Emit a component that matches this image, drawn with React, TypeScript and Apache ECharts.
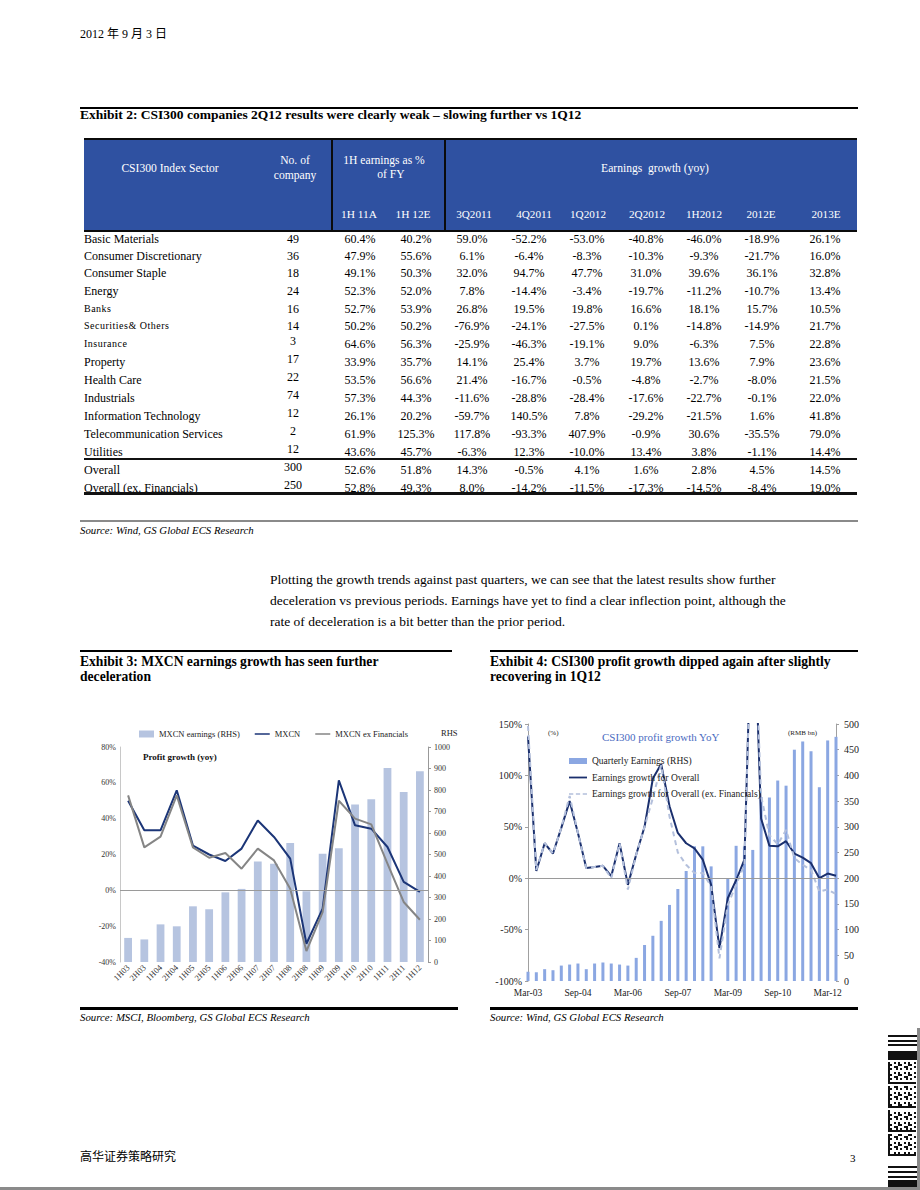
import React, { useEffect, useRef } from 'react';
import * as echarts from 'echarts';

const SERIF = "'Liberation Serif', 'Times New Roman', 'Noto Sans CJK SC', serif";

// ---------- Exhibit 2 table data ----------
const sectors = ['Basic Materials', 'Consumer Discretionary', 'Consumer Staple', 'Energy', 'Banks', 'Securities& Others', 'Insurance', 'Property', 'Health Care', 'Industrials', 'Information Technology', 'Telecommunication Services', 'Utilities', 'Overall', 'Overall (ex. Financials)'];
const companyCounts = [49, 36, 18, 24, 16, 14, 3, 17, 22, 74, 12, 2, 12, 300, 250];
const h1Share11A = [60.4, 47.9, 49.1, 52.3, 52.7, 50.2, 64.6, 33.9, 53.5, 57.3, 26.1, 61.9, 43.6, 52.6, 52.8];
const h1Share12E = [40.2, 55.6, 50.3, 52.0, 53.9, 50.2, 56.3, 35.7, 56.6, 44.3, 20.2, 125.3, 45.7, 51.8, 49.3];
const growth3Q11 = [59.0, 6.1, 32.0, 7.8, 26.8, -76.9, -25.9, 14.1, 21.4, -11.6, -59.7, 117.8, -6.3, 14.3, 8.0];
const growth4Q11 = [-52.2, -6.4, 94.7, -14.4, 19.5, -24.1, -46.3, 25.4, -16.7, -28.8, 140.5, -93.3, 12.3, -0.5, -14.2];
const growth1Q12 = [-53.0, -8.3, 47.7, -3.4, 19.8, -27.5, -19.1, 3.7, -0.5, -28.4, 7.8, 407.9, -10.0, 4.1, -11.5];
const growth2Q12 = [-40.8, -10.3, 31.0, -19.7, 16.6, 0.1, 9.0, 19.7, -4.8, -17.6, -29.2, -0.9, 13.4, 1.6, -17.3];
const growth1H12 = [-46.0, -9.3, 39.6, -11.2, 18.1, -14.8, -6.3, 13.6, -2.7, -22.7, -21.5, 30.6, 3.8, 2.8, -14.5];
const growth2012E = [-18.9, -21.7, 36.1, -10.7, 15.7, -14.9, 7.5, 7.9, -8.0, -0.1, 1.6, -35.5, -1.1, 4.5, -8.4];
const growth2013E = [26.1, 16.0, 32.8, 13.4, 10.5, 21.7, 22.8, 23.6, 21.5, 22.0, 41.8, 79.0, 14.4, 14.5, 19.0];
const growthHeaders = ['3Q2011', '4Q2011', '1Q2012', '2Q2012', '1H2012', '2012E', '2013E'];
const shareHeaders = ['1H 11A', '1H 12E'];

// ---------- Exhibit 3 data ----------
const halfYears = ['1H03', '2H03', '1H04', '2H04', '1H05', '2H05', '1H06', '2H06', '1H07', '2H07', '1H08', '2H08', '1H09', '2H09', '1H10', '2H10', '1H11', '2H11', '1H12'];
const mxcnEarnings = [112, 105, 175, 166, 259, 245, 324, 340, 467, 457, 553, 329, 504, 529, 733, 757, 902, 791, 887];
const mxcnGrowth = [50, 33.5, 33.5, 55.8, 25, 20, 16.4, 23.3, 39, 29.8, 17.7, -29.8, -10.2, 61.4, 36.3, 34.4, 24.2, 4.7, -0.9];
const mxcnExFinGrowth = [53, 24, 30, 53, 24, 18.2, 20.8, 12.1, 23.3, 16.7, 0.9, -33.9, -12.1, 50, 40, 36.8, 14.9, -6.5, -16.4];

// ---------- Exhibit 4 data ----------
const quarters = ['Mar-03', 'Jun-03', 'Sep-03', 'Dec-03', 'Mar-04', 'Jun-04', 'Sep-04', 'Dec-04', 'Mar-05', 'Jun-05', 'Sep-05', 'Dec-05', 'Mar-06', 'Jun-06', 'Sep-06', 'Dec-06', 'Mar-07', 'Jun-07', 'Sep-07', 'Dec-07', 'Mar-08', 'Jun-08', 'Sep-08', 'Dec-08', 'Mar-09', 'Jun-09', 'Sep-09', 'Dec-09', 'Mar-10', 'Jun-10', 'Sep-10', 'Dec-10', 'Mar-11', 'Jun-11', 'Sep-11', 'Dec-11', 'Mar-12', 'Jun-12'];
const quarterlyEarnings = [18, 17, 23, 21, 30, 32, 34, 23, 34, 36, 34, 32, 30, 45, 70, 88, 117, 148, 179, 214, 262, 262, 223, 0, 200, 263, 262, 255, 358, 357, 390, 380, 450, 466, 447, 377, 468, 475];
const growthOverall = [138, 7, 34, 24, 49, 75, 44, 10, 11, 12, 2, 34, -6.5, 23, 50, 97, 111, 70, 44, 34, 29, 18, -6.5, -68, -19.5, -2, 18, 300, 58, 31.5, 31, 36, 24, 20, 14.6, 0, 4.5, 2.3];
const growthOverallExFin = [148, 8, 34, 24, 49, 80, 44, 10, 11, 12, 0, 34, -11, 23, 50, 78, 110, 60, 25, 13, 5, 5, -8, -78, -26, -6.5, 13, 300, 80, 42, 33, 47, 19.5, 13, 8, -13, -11, -15.5];

// ---------- layout ----------
const rowY = [239, 256, 273, 291, 309, 326, 344, 362, 380, 398, 416, 434, 452, 470, 488];
const growthColX = [472, 529, 587, 646, 704, 762, 825];
const growthHeadX = [474, 534, 588, 647, 704, 761, 826];
const shareColX = [360, 416];
const shareHeadX = [359, 413];
const smallNameRows = new Set(['Banks', 'Securities& Others', 'Insurance']);

const pct = (v: number) => v.toFixed(1) + '%';

type TProps = { x: number; y: number; children: React.ReactNode; size?: number; align?: 'left' | 'center' | 'right'; bold?: boolean; italic?: boolean; color?: string; ls?: number };
function T({ x, y, children, size = 11, align = 'left', bold = false, italic = false, color = '#000', ls = 0 }: TProps) {
  const tx = align === 'center' ? '-50%' : align === 'right' ? '-100%' : '0';
  return (
    <div style={{ position: 'absolute', left: x, top: y, transform: `translate(${tx}, -50%)`, whiteSpace: 'pre', lineHeight: 1, fontSize: size, fontWeight: bold ? 700 : 400, fontStyle: italic ? 'italic' : 'normal', color, fontFamily: SERIF, letterSpacing: ls }}>
      {children}
    </div>
  );
}

function Box({ x, y, w, h, c }: { x: number; y: number; w: number; h: number; c: string }) {
  return <div style={{ position: 'absolute', left: x, top: y, width: w, height: h, background: c }} />;
}

const LINE_ICON = 'path://M0,0H20V2H0Z';
const DASH_ICON = 'path://M0,0H5V2H0Z M8,0H13V2H8Z M16,0H21V2H16Z';

const option: any = {
  animation: false,
  textStyle: { fontFamily: SERIF },
  grid: [
    { left: 40, top: 47, width: 308, height: 215 },
    { left: 448, top: 24, width: 308, height: 257 },
  ],
  legend: [
    {
      data: [
        { name: 'MXCN earnings (RHS)', icon: 'rect' },
        { name: 'MXCN', icon: LINE_ICON },
        { name: 'MXCN ex Financials', icon: LINE_ICON },
      ],
      left: 54, top: 24, itemWidth: 15, itemHeight: 7, itemGap: 15,
      textStyle: { fontSize: 8.5, color: '#222', fontFamily: SERIF, lineHeight: 10 },
    },
    {
      data: [
        { name: 'Quarterly Earnings (RHS)', icon: 'rect' },
        { name: 'Earnings growth for Overall', icon: LINE_ICON },
        { name: 'Earnings growth for Overall (ex. Financials)', icon: DASH_ICON },
      ],
      orient: 'vertical', left: 484, top: 50, itemWidth: 18, itemHeight: 6, itemGap: 4.5,
      textStyle: { fontSize: 9.5, color: '#222', fontFamily: SERIF, lineHeight: 12 },
    },
  ],
  xAxis: [
    {
      gridIndex: 0, type: 'category', data: halfYears,
      axisLine: { show: false }, axisTick: { show: false },
      axisLabel: { rotate: 45, fontSize: 8.5, color: '#333', margin: 4, interval: 0 },
    },
    {
      gridIndex: 1, type: 'category', data: quarters, boundaryGap: false,
      axisLine: { show: false }, axisTick: { show: false },
      axisLabel: { interval: 5, fontSize: 9.5, color: '#222', margin: 7 },
    },
  ],
  yAxis: [
    {
      gridIndex: 0, type: 'value', min: -40, max: 80, interval: 20,
      axisLine: { show: true, lineStyle: { color: '#c8c8c8' } },
      axisTick: { show: false }, splitLine: { show: false },
      axisLabel: { formatter: '{value}%', fontSize: 8, color: '#333', margin: 4 },
    },
    {
      gridIndex: 0, type: 'value', position: 'right', min: 0, max: 1000, interval: 100,
      axisLine: { show: true, lineStyle: { color: '#999' } },
      axisTick: { show: true, length: 3, lineStyle: { color: '#999' } }, splitLine: { show: false },
      axisLabel: { formatter: (v: number) => String(v), fontSize: 8, color: '#333', margin: 6 },
    },
    {
      gridIndex: 1, type: 'value', min: -100, max: 150, interval: 50,
      axisLine: { show: true, lineStyle: { color: '#a0a0a0' } },
      axisTick: { show: true, length: 3, lineStyle: { color: '#a0a0a0' } }, splitLine: { show: false },
      axisLabel: { formatter: '{value}%', fontSize: 10, color: '#222', margin: 6 },
    },
    {
      gridIndex: 1, type: 'value', position: 'right', min: 0, max: 500, interval: 50,
      axisLine: { show: true, lineStyle: { color: '#a0a0a0' } },
      axisTick: { show: true, length: 3, lineStyle: { color: '#a0a0a0' } }, splitLine: { show: false },
      axisLabel: { fontSize: 10, color: '#222', margin: 8 },
    },
  ],
  series: [
    {
      name: 'MXCN earnings (RHS)', type: 'bar', xAxisIndex: 0, yAxisIndex: 1, data: mxcnEarnings,
      barWidth: '48%', itemStyle: { color: '#b6c4e0' },
    },
    {
      name: 'MXCN', type: 'line', xAxisIndex: 0, yAxisIndex: 0, data: mxcnGrowth, symbol: 'none',
      lineStyle: { color: '#1b3577', width: 2 }, itemStyle: { color: '#1b3577' },
      markLine: { silent: true, symbol: 'none', label: { show: false }, lineStyle: { color: '#9a9a9a', type: 'solid', width: 1 }, data: [{ yAxis: 0 }] },
    },
    {
      name: 'MXCN ex Financials', type: 'line', xAxisIndex: 0, yAxisIndex: 0, data: mxcnExFinGrowth, symbol: 'none',
      lineStyle: { color: '#858585', width: 2 }, itemStyle: { color: '#858585' },
    },
    {
      name: 'Quarterly Earnings (RHS)', type: 'bar', xAxisIndex: 1, yAxisIndex: 3, data: quarterlyEarnings,
      barWidth: 3, itemStyle: { color: '#8ba7e2' },
    },
    {
      name: 'Earnings growth for Overall', type: 'line', xAxisIndex: 1, yAxisIndex: 2, data: growthOverall, symbol: 'none',
      lineStyle: { color: '#1a2f6d', width: 2 }, itemStyle: { color: '#1a2f6d' },
      markLine: { silent: true, symbol: 'none', label: { show: false }, lineStyle: { color: '#9a9a9a', type: 'solid', width: 1 }, data: [{ yAxis: 0 }] },
    },
    {
      name: 'Earnings growth for Overall (ex. Financials)', type: 'line', xAxisIndex: 1, yAxisIndex: 2, data: growthOverallExFin, symbol: 'none',
      lineStyle: { color: '#b4c0dc', width: 2, type: [5, 4] }, itemStyle: { color: '#b4c0dc' },
    },
  ],
  graphic: [
    { type: 'text', x: 361, y: 33, style: { text: 'RHS', fontSize: 8.5, fill: '#222', fontFamily: SERIF, verticalAlign: 'middle' } },
    { type: 'text', x: 63, y: 57, style: { text: 'Profit growth (yoy)', fontSize: 9, fontWeight: 'bold', fill: '#111', fontFamily: SERIF, verticalAlign: 'middle' } },
    { type: 'text', x: 468, y: 33, style: { text: '(%)', fontSize: 7, fill: '#222', fontFamily: SERIF, verticalAlign: 'middle' } },
    { type: 'text', x: 522, y: 37, style: { text: 'CSI300 profit growth YoY', fontSize: 11, fill: '#4a6bbf', fontFamily: SERIF, verticalAlign: 'middle' } },
    { type: 'text', x: 708, y: 33, style: { text: '(RMB bn)', fontSize: 7, fill: '#222', fontFamily: SERIF, verticalAlign: 'middle' } },
  ],
};

function Charts() {
  const ref = useRef<HTMLDivElement>(null);
  useEffect(() => {
    const chart = echarts.init(ref.current!, null, { renderer: 'svg' });
    chart.setOption(option);
    return () => chart.dispose();
  }, []);
  return <div ref={ref} style={{ position: 'absolute', left: 80, top: 700, width: 790, height: 310 }} />;
}

function Barcode() {
  const cells: React.ReactNode[] = [];
  const cols = 14;
  const rows = 47;
  for (let r = 0; r < rows; r++) {
    if (r === 11 || r === 23 || r === 35) continue;
    for (let c = 0; c < cols; c++) {
      const on = ((r * 31 + c * 17 + r * c * 7) % 5) < 2 || c === 0 || r % 12 === 10;
      if (on) cells.push(<Box key={r + '-' + c} x={888 + c * 2} y={1062 + r * 2} w={2} h={2} c="#111" />);
    }
  }
  return (
    <>
      <Box x={888} y={1035} w={29} h={2} c="#111" />
      <Box x={888} y={1040} w={29} h={2} c="#111" />
      <Box x={888} y={1044} w={29} h={2} c="#111" />
      <Box x={888} y={1051} w={29} h={9} c="#111" />
      {cells}
      <Box x={888} y={1166} w={29} h={2} c="#111" />
      <Box x={888} y={1171} w={29} h={2} c="#111" />
      <Box x={888} y={1176} w={29} h={2} c="#111" />
      <Box x={888} y={1180} w={29} h={7} c="#111" />
      <Box x={917} y={1028} w={3} h={162} c="#8a8a8a" />
      <Box x={0} y={1187} w={920} h={3} c="#8a8a8a" />
    </>
  );
}

export default function App() {
  const growthCols = [growth3Q11, growth4Q11, growth1Q12, growth2Q12, growth1H12, growth2012E, growth2013E];
  return (
    <div style={{ position: 'absolute', left: 0, top: 0, width: 920, height: 1190, background: '#fff', overflow: 'hidden', fontFamily: SERIF }}>
      <T x={80} y={34} size={12}>2012 年 9 月 3 日</T>

      {/* Exhibit 2 */}
      <T x={80} y={115} size={13.5} bold>Exhibit 2: CSI300 companies 2Q12 results were clearly weak – slowing further vs 1Q12</T>
      <Box x={80} y={107} w={778} h={2} c="#000" />
      <Box x={84} y={139} w={773} h={92} c="#2f51a1" />
      <Box x={84} y={138} w={773} h={2} c="#0b0b0b" />
      <Box x={84} y={230} w={773} h={2} c="#0b0b0b" />
      <Box x={331} y={138} w={2} h={94} c="#0b0b0b" />
      <Box x={444} y={138} w={2} h={94} c="#0b0b0b" />
      <T x={170} y={169} size={11.6} align="center" color="#fff">CSI300 Index Sector</T>
      <T x={295} y={161} size={11.6} align="center" color="#fff">No. of</T>
      <T x={295} y={176} size={11.6} align="center" color="#fff">company</T>
      <T x={384} y={161} size={11.6} align="center" color="#fff">1H earnings as %</T>
      <T x={391} y={175} size={11.6} align="center" color="#fff">of FY</T>
      <T x={655} y={169} size={11.6} align="center" color="#fff">Earnings  growth (yoy)</T>
      {shareHeaders.map((h, j) => (
        <T key={h} x={shareHeadX[j]} y={215} size={11.4} align="center" color="#fff">{h}</T>
      ))}
      {growthHeaders.map((h, j) => (
        <T key={h} x={growthHeadX[j]} y={215} size={11.2} align="center" color="#fff">{h}</T>
      ))}
      {sectors.map((s, i) => (
        <React.Fragment key={s}>
          {smallNameRows.has(s)
            ? <T x={84} y={rowY[i]} size={10} ls={0.5}>{s}</T>
            : <T x={84} y={rowY[i]} size={12}>{s}</T>}
          <T x={293} y={rowY[i] - (i >= 6 ? 3 : 0)} size={12} align="center">{companyCounts[i]}</T>
          <T x={shareColX[0]} y={rowY[i]} size={12} align="center">{pct(h1Share11A[i])}</T>
          <T x={shareColX[1]} y={rowY[i]} size={12} align="center">{pct(h1Share12E[i])}</T>
          {growthCols.map((col, j) => (
            <T key={j} x={growthColX[j]} y={rowY[i]} size={12} align="center">{pct(col[i])}</T>
          ))}
        </React.Fragment>
      ))}
      <Box x={84} y={458} w={773} h={1.5} c="#111" />
      <Box x={84} y={492} w={773} h={2.5} c="#111" />
      <Box x={80} y={520} w={778} h={2} c="#8a8a8a" />
      <T x={80} y={530} size={10.8} italic>Source: Wind, GS Global ECS Research</T>

      {/* paragraph */}
      <T x={270} y={580} size={13.5}>Plotting the growth trends against past quarters, we can see that the latest results show further</T>
      <T x={270} y={601} size={13.5}>deceleration vs previous periods. Earnings have yet to find a clear inflection point, although the</T>
      <T x={270} y={622} size={13.5}>rate of deceleration is a bit better than the prior period.</T>

      {/* Exhibit 3 & 4 titles */}
      <Box x={80} y={650} w={372} h={2} c="#000" />
      <Box x={490} y={650} w={368} h={2} c="#000" />
      <T x={80} y={662} size={13.6} bold>Exhibit 3: MXCN earnings growth has seen further</T>
      <T x={80} y={677} size={13.6} bold>deceleration</T>
      <T x={490} y={662} size={13.6} bold>Exhibit 4: CSI300 profit growth dipped again after slightly</T>
      <T x={490} y={677} size={13.6} bold>recovering in 1Q12</T>

      <Charts />

      <Box x={80} y={1007} w={378} h={3} c="#000" />
      <Box x={490} y={1007} w={368} h={3} c="#000" />
      <T x={80} y={1017} size={10.8} italic>Source: MSCI, Bloomberg, GS Global ECS Research</T>
      <T x={490} y={1017} size={10.8} italic>Source: Wind, GS Global ECS Research</T>

      {/* footer */}
      <T x={80} y={1157} size={12}>高华证券策略研究</T>
      <T x={850} y={1158} size={11}>3</T>
      <Barcode />
    </div>
  );
}
